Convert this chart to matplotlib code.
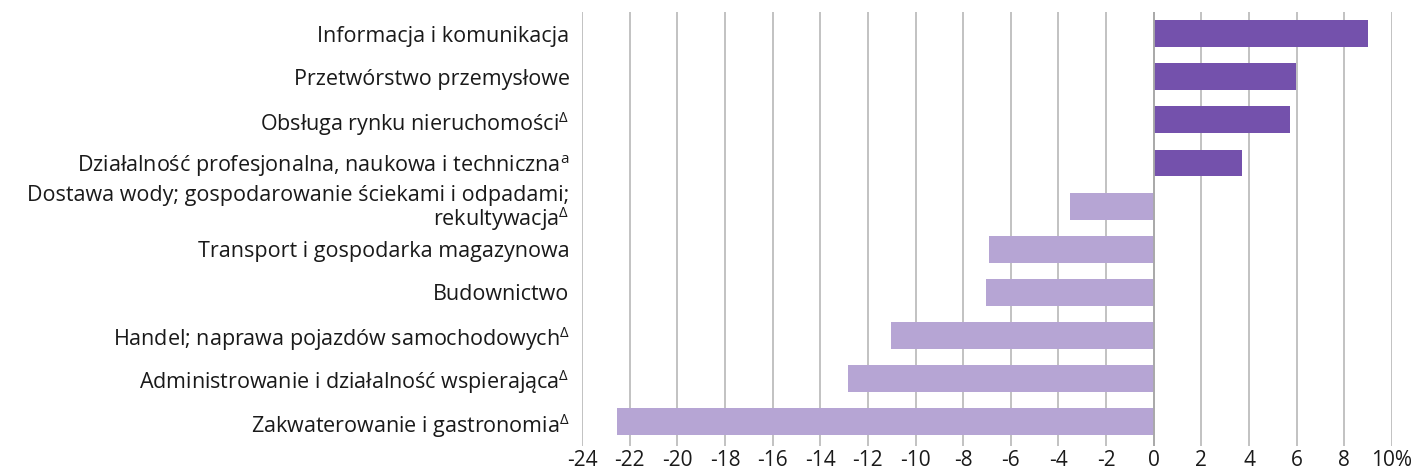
import matplotlib
matplotlib.use("Agg")
import matplotlib.pyplot as plt
import numpy as np

plt.rcParams['font.family'] = ['Open Sans', 'DejaVu Sans']
plt.rcParams['mathtext.fontset'] = 'custom'
plt.rcParams['mathtext.rm'] = 'Open Sans'
plt.rcParams['mathtext.it'] = 'Open Sans'
plt.rcParams['axes.unicode_minus'] = False

# data (top to bottom)
categories = [
    "Informacja i komunikacja",
    "Przetwórstwo przemysłowe",
    "Obsługa rynku nieruchomości$^{\\Delta}$",
    "Działalność profesjonalna, naukowa i techniczna$^{\\mathrm{a}}$",
    "Dostawa wody; gospodarowanie ściekami i odpadami;\nrekultywacja$^{\\Delta}$",
    "Transport i gospodarka magazynowa",
    "Budownictwo",
    "Handel; naprawa pojazdów samochodowych$^{\\Delta}$",
    "Administrowanie i działalność wspierająca$^{\\Delta}$",
    "Zakwaterowanie i gastronomia$^{\\Delta}$",
]
values = [9.0, 5.95, 5.7, 3.7, -3.5, -6.9, -7.05, -11.05, -12.85, -22.55]
xticks = list(range(-24, 11, 2))
xtick_labels = [str(t) for t in xticks[:-1]] + ["10%"]

dark = "#7451ac"
light = "#b6a5d4"
text_col = "#1a1a1a"

fig = plt.figure(figsize=(14.22, 4.76), dpi=100)
ax = fig.add_axes([582 / 1422, 1 - 446 / 476, (1392 - 582) / 1422, 434 / 476])

y = np.arange(len(categories))
colors = [dark if v > 0 else light for v in values]
ax.barh(y, values, height=0.62, color=colors, zorder=3)

ax.set_xlim(-24, 10)
ax.set_ylim(len(categories) - 1 + 0.56, -0.5)

ax.set_xticks(xticks)
ax.set_xticklabels(xtick_labels, fontsize=15, color=text_col)
ax.set_yticks(y)
ax.set_yticklabels(categories, fontsize=15.5, color=text_col,
                   multialignment='right', linespacing=0.95)

ax.grid(axis='x', color='#bdbdbd', linewidth=1.3, zorder=0)
ax.axvline(0, color='#a8a8a8', linewidth=1.3, zorder=4)
ax.tick_params(axis='both', length=0)
ax.tick_params(axis='x', pad=3)
ax.tick_params(axis='y', pad=9)
for s in ax.spines.values():
    s.set_visible(False)

fig.savefig("out.png", dpi=100)
